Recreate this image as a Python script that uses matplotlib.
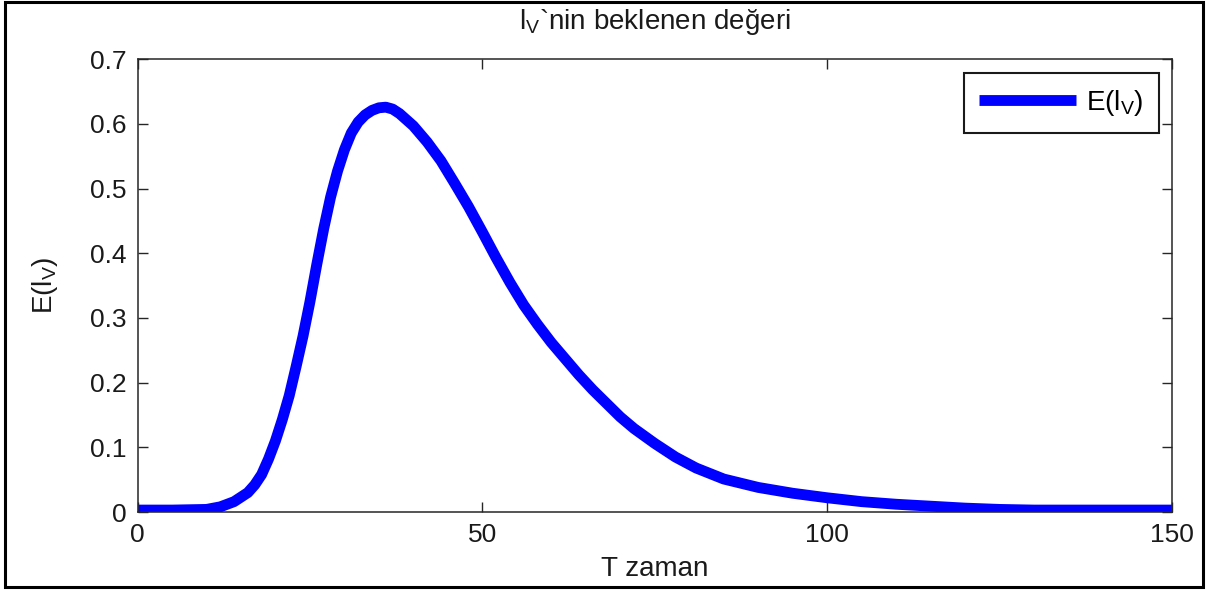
import matplotlib
matplotlib.use("Agg")
import matplotlib.pyplot as plt
from matplotlib.patches import Rectangle

plt.rcParams['font.family'] = ['Liberation Sans', 'DejaVu Sans']
plt.rcParams['mathtext.fontset'] = 'custom'
plt.rcParams['mathtext.rm'] = 'Liberation Sans'

# Data
t_values = [0, 5, 10, 12, 14, 16, 17, 18, 19, 20, 21, 22, 23, 24, 25, 26, 27, 28, 29, 30,
            31, 32, 33, 34, 35, 36, 37, 38, 40, 42, 44, 46, 48, 50, 52, 54, 56, 58,
            60, 62, 64, 66, 68, 70, 72, 75, 78, 81, 85, 90, 95, 100, 105, 110, 115,
            120, 125, 130, 140, 150]
e_values = [0.003, 0.003, 0.004, 0.008, 0.016, 0.030, 0.042, 0.058, 0.082, 0.110, 0.143, 0.180,
            0.225, 0.272, 0.325, 0.383, 0.438, 0.487, 0.527, 0.560, 0.586, 0.603, 0.614,
            0.621, 0.625, 0.626, 0.623, 0.616, 0.597, 0.572, 0.543, 0.508, 0.472, 0.433,
            0.393, 0.355, 0.320, 0.290, 0.262, 0.237, 0.212, 0.189, 0.168, 0.147, 0.129,
            0.106, 0.085, 0.068, 0.051, 0.038, 0.029, 0.022, 0.016, 0.012, 0.009, 0.006,
            0.004, 0.003, 0.003, 0.003]
x_ticks = [0, 50, 100, 150]
y_ticks = [0, 0.1, 0.2, 0.3, 0.4, 0.5, 0.6, 0.7]
y_ticklabels = ['0', '0.1', '0.2', '0.3', '0.4', '0.5', '0.6', '0.7']

W, H = 1209, 593
fig = plt.figure(figsize=(W / 100, H / 100), dpi=100)
fig.patch.set_facecolor('white')

left, right, top, bottom = 137.5, 1172, 59.3, 512
ax = fig.add_axes([left / W, 1 - bottom / H, (right - left) / W, (bottom - top) / H])

ax.plot(t_values, e_values, color='#0000ff', linewidth=7.8, solid_capstyle='butt',
        solid_joinstyle='round', label=r'E($\mathregular{l_V}$)')

ax.set_xlim(0, 150)
ax.set_ylim(0, 0.7)
ax.set_xticks(x_ticks)
ax.set_xticklabels([str(v) for v in x_ticks])
ax.set_yticks(y_ticks)
ax.set_yticklabels(y_ticklabels)

fs = 19
lfs = 20
ax.tick_params(direction='in', length=7, width=1.0, color='#262626',
               top=True, right=True, labelsize=fs, labelcolor='#1a1a1a', pad=8)
for sp in ax.spines.values():
    sp.set_linewidth(1.1)
    sp.set_color('#262626')

ax.set_title(r'$\mathregular{l_V}$`nin beklenen değeri', fontsize=lfs, color='#1a1a1a', pad=22)
ax.set_xlabel('T zaman', fontsize=lfs, color='#1a1a1a')
ax.set_ylabel(r'E($\mathregular{l_V}$)', fontsize=lfs, color='#1a1a1a')
ax.xaxis.set_label_coords(0.5, (bottom - 556) / (bottom - top))
ax.yaxis.set_label_coords((60 - left) / (right - left), 0.5)

leg = ax.legend(loc='upper right',
                bbox_to_anchor=((1159 - left) / (right - left), (bottom - 72.7) / (bottom - top)),
                borderaxespad=0, fancybox=False, edgecolor='#1a1a1a', framealpha=1,
                fontsize=lfs, handlelength=3.5, handletextpad=0.35, borderpad=0.55)
leg.get_frame().set_linewidth(1.5)

fig.patches.append(Rectangle((4.5 / W, 1 - 587 / H), (1203 - 4.5) / W, (587 - 1.5) / H,
                             transform=fig.transFigure, fill=False, edgecolor='black',
                             linewidth=2.2))

fig.savefig('out.png', dpi=100, facecolor='white')
